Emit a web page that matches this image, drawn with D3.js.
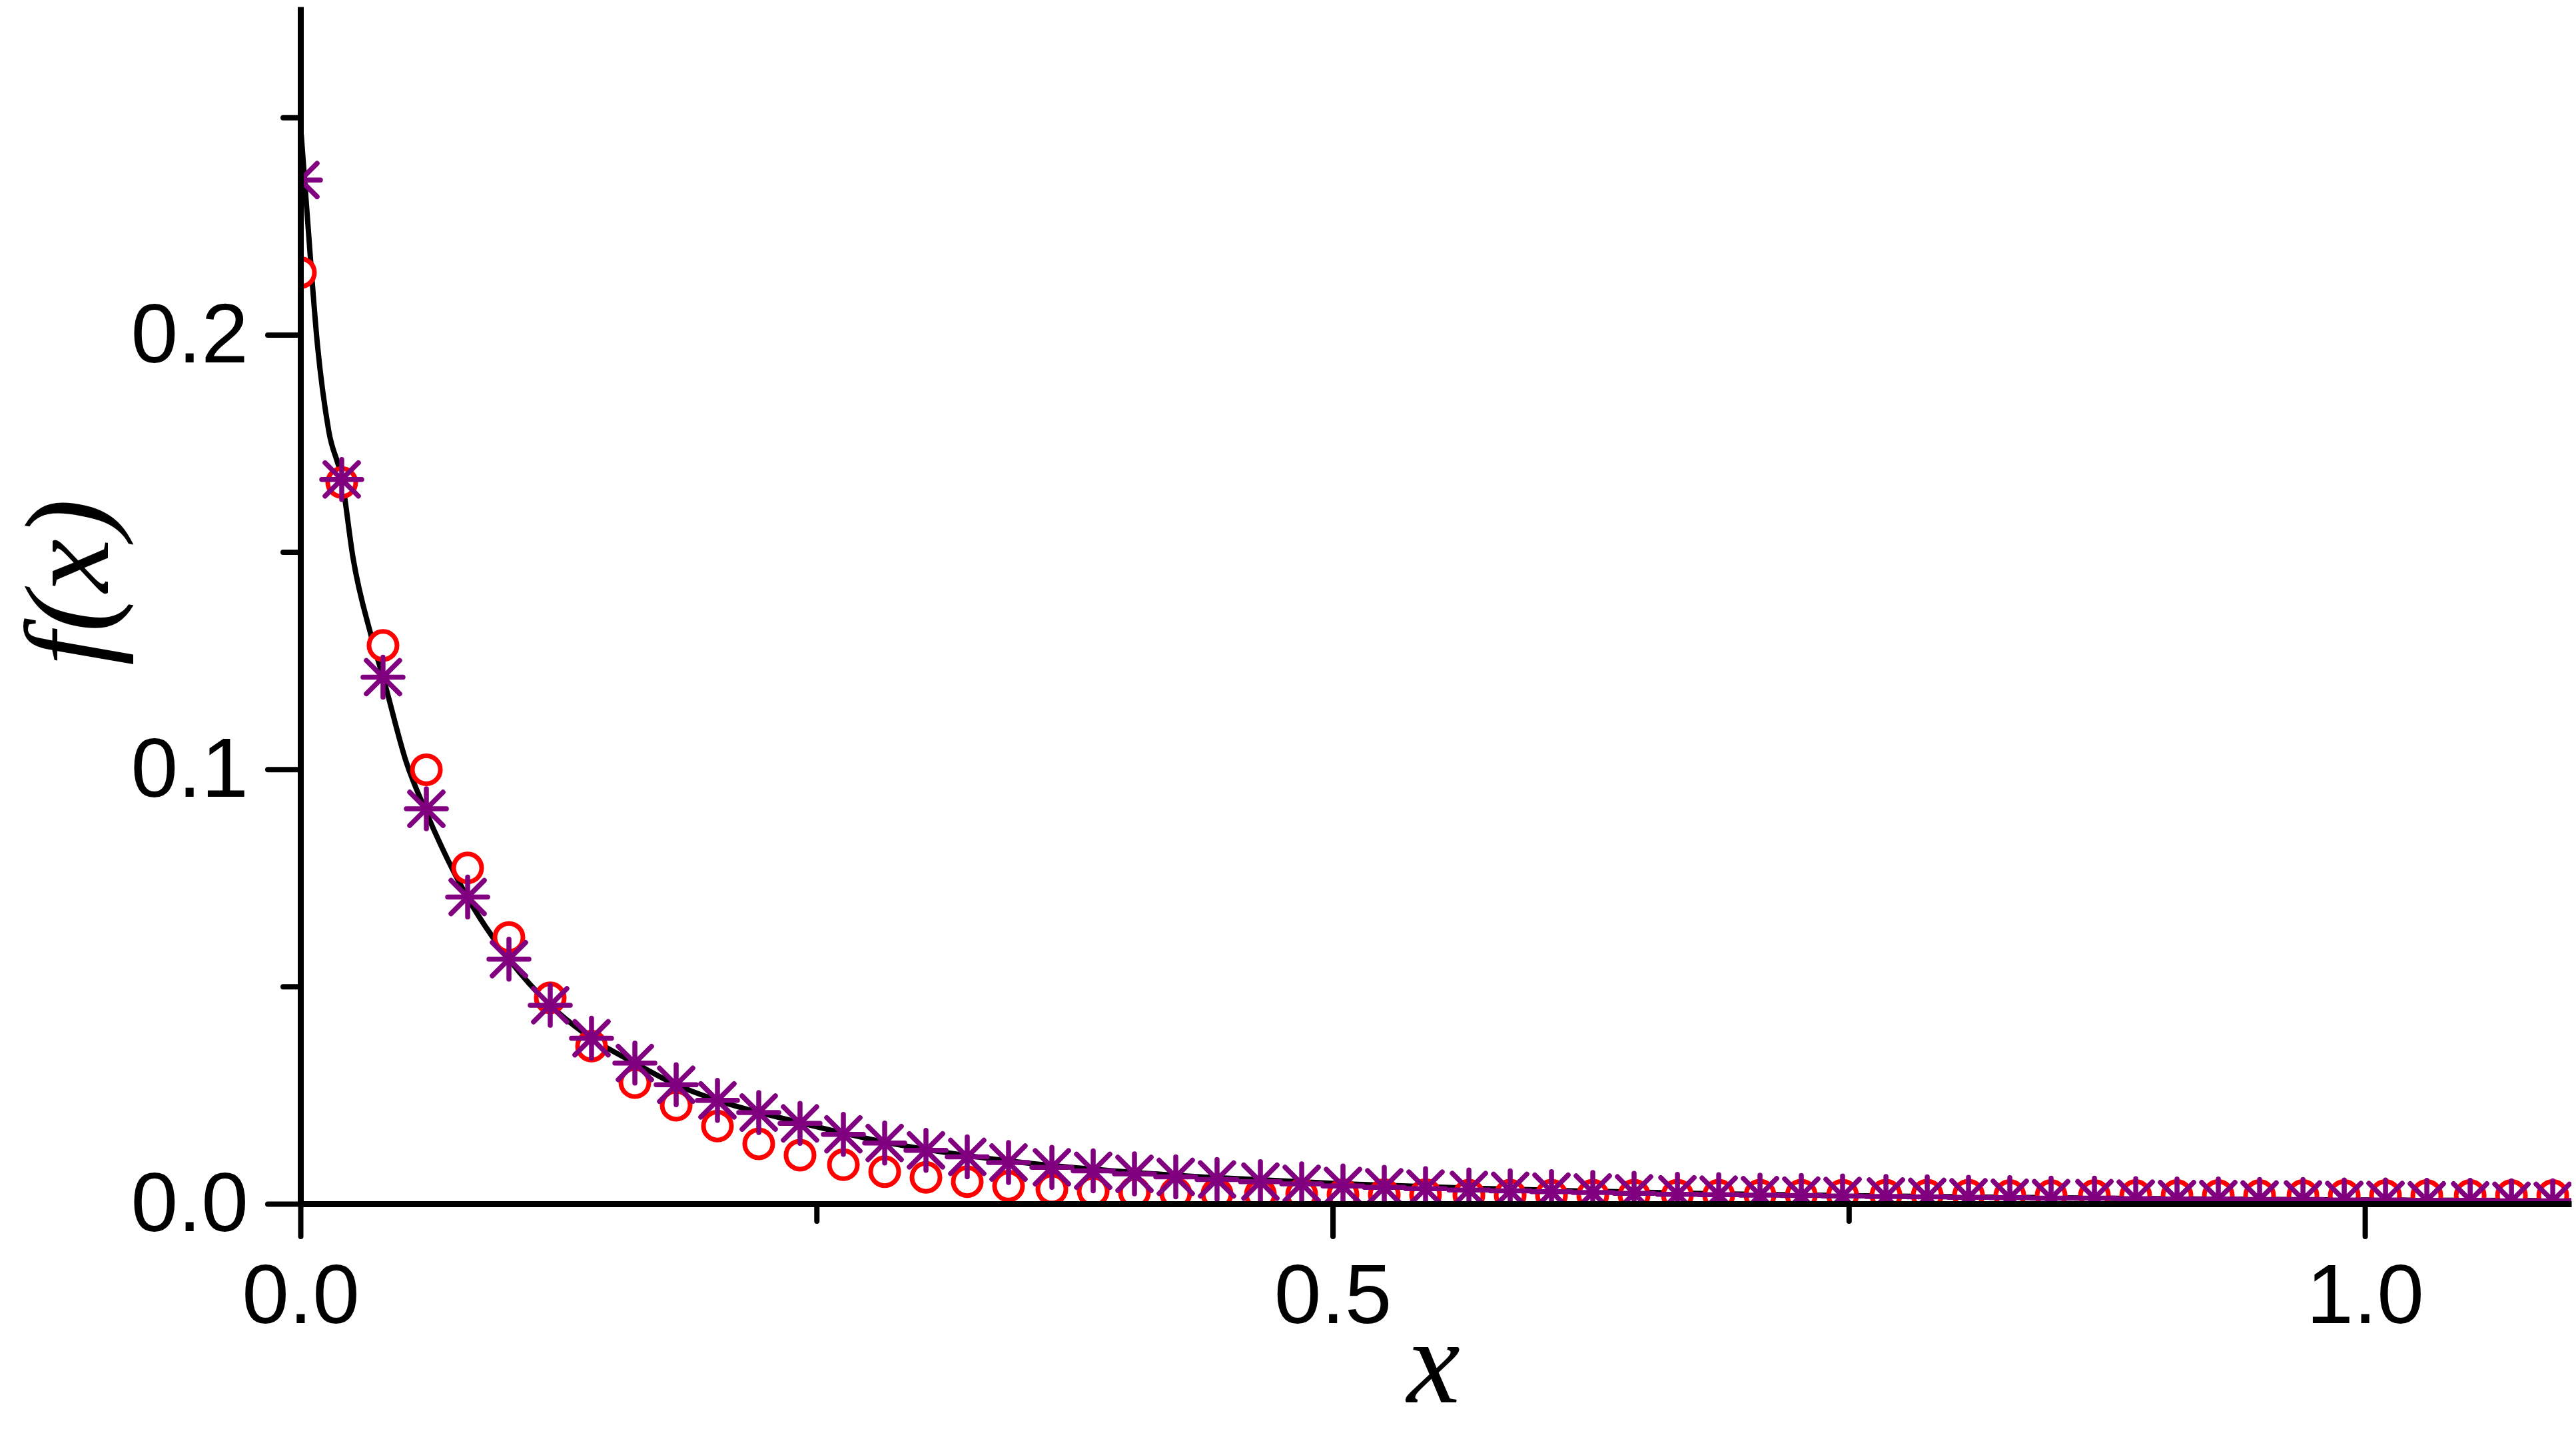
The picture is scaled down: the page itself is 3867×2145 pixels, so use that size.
<!DOCTYPE html>
<html>
<head>
<meta charset="utf-8">
<script src="https://cdn.jsdelivr.net/npm/d3@7"></script>
<style>
  body { margin: 0; background: #fff; }
  svg { display: block; }
</style>
</head>
<body>
<svg id="chart" width="3867" height="2145"></svg>
<script>
// sample positions (x) shared by both marker series
const xVals = [0, 0.020, 0.040, 0.061, 0.081, 0.101, 0.121, 0.141, 0.162, 0.182,
  0.202, 0.222, 0.242, 0.263, 0.283, 0.303, 0.323, 0.343, 0.364, 0.384,
  0.404, 0.424, 0.444, 0.465, 0.485, 0.505, 0.525, 0.545, 0.566, 0.586,
  0.606, 0.626, 0.646, 0.667, 0.687, 0.707, 0.727, 0.747, 0.768, 0.788,
  0.808, 0.828, 0.848, 0.869, 0.889, 0.909, 0.929, 0.949, 0.970, 0.990,
  1.010, 1.030, 1.051, 1.071, 1.091];

// red open circles
const redVals = [0.2143, 0.1660, 0.1285, 0.0999, 0.0773, 0.0613, 0.0474, 0.0363, 0.0279, 0.0227,
  0.0179, 0.0138, 0.0112, 0.0090, 0.0074, 0.0061, 0.0051, 0.0041, 0.0034, 0.0029,
  0.0026, 0.0024, 0.0023, 0.0022, 0.0022, 0.0021, 0.0021, 0.0021, 0.0020, 0.0020,
  0.0020, 0.0020, 0.0020, 0.0020, 0.0020, 0.0020, 0.0020, 0.0020, 0.0020, 0.0020,
  0.0020, 0.0019, 0.0019, 0.0019, 0.0019, 0.0019, 0.0019, 0.0019, 0.0019, 0.0019,
  0.0019, 0.0019, 0.0019, 0.0019, 0.0019];

// purple asterisks
const purpleVals = [0.2356, 0.1667, 0.1212, 0.0909, 0.0706, 0.0563, 0.0457, 0.0381, 0.0324, 0.0274,
  0.0238, 0.0210, 0.0185, 0.0160, 0.0140, 0.0123, 0.0108, 0.0095, 0.0084, 0.0076,
  0.0069, 0.0062, 0.0056, 0.0051, 0.0046, 0.0041, 0.0038, 0.0035, 0.0032, 0.0030,
  0.0028, 0.0026, 0.0024, 0.0022, 0.0021, 0.0020, 0.0019, 0.0018, 0.0017, 0.0016,
  0.0015, 0.0014, 0.0013, 0.0013, 0.0012, 0.0011, 0.0011, 0.0010, 0.0010, 0.0009,
  0.0009, 0.0008, 0.0008, 0.0007, 0.0007];

// black solid curve
const curveX = [0.0004, 0.0034, 0.0083, 0.0137, 0.0201, 0.0255, 0.0341, 0.0406, 0.0513, 0.0606,
  0.0808, 0.101, 0.121, 0.141, 0.162, 0.182, 0.202, 0.242, 0.283, 0.323,
  0.364, 0.404, 0.444, 0.505, 0.566, 0.626, 0.687, 0.747, 0.808, 0.869,
  0.929, 0.990, 1.051, 1.100];
const curveY = [0.246, 0.2268, 0.1974, 0.1779, 0.1667, 0.1486, 0.1310, 0.1202, 0.1016, 0.0905,
  0.0706, 0.0563, 0.0457, 0.0381, 0.0324, 0.0274, 0.0238, 0.0187, 0.0142, 0.0111,
  0.0088, 0.0072, 0.0060, 0.0046, 0.0036, 0.0029, 0.0023, 0.0019, 0.0016, 0.0013,
  0.0011, 0.0009, 0.0008, 0.0007];

const xMajorTicks = [0, 0.5, 1.0];
const xMinorTicks = [0.25, 0.75];
const yMajorTicks = [0, 0.1, 0.2];
const yMinorTicks = [0.05, 0.15, 0.25];

const svg = d3.select("#chart");

const x = d3.scaleLinear().domain([0, 1.1]).range([451, 3860]);
const y = d3.scaleLinear().domain([0, 0.2755]).range([1807, 10]);

// clip data to the plot frame
svg.append("defs").append("clipPath").attr("id", "plotClip")
  .append("rect")
  .attr("x", x(0)).attr("y", y(0.2755))
  .attr("width", x(1.1) - x(0)).attr("height", y(0) - y(0.2755));

const plot = svg.append("g").attr("clip-path", "url(#plotClip)");

// curve
const line = d3.line()
  .x((d, i) => x(curveX[i]))
  .y(d => y(d))
  .curve(d3.curveMonotoneX);

plot.append("path")
  .datum(curveY)
  .attr("d", line)
  .attr("fill", "none")
  .attr("stroke", "#000")
  .attr("stroke-width", 8);

// red circles
plot.selectAll("circle.red")
  .data(redVals)
  .enter()
  .append("circle")
  .attr("class", "red")
  .attr("cx", (d, i) => x(xVals[i]))
  .attr("cy", d => y(d))
  .attr("r", 21)
  .attr("fill", "#fff")
  .attr("stroke", "#ff0000")
  .attr("stroke-width", 7);

// purple asterisks
const star = "M-30,0H30M0,-30V30M-25,-25L25,25M-25,25L25,-25";
plot.selectAll("path.star")
  .data(purpleVals)
  .enter()
  .append("path")
  .attr("class", "star")
  .attr("d", star)
  .attr("transform", (d, i) => `translate(${x(xVals[i])},${y(d)})`)
  .attr("fill", "none")
  .attr("stroke", "#800080")
  .attr("stroke-width", 7.5)
  .attr("stroke-linecap", "round");

// axes
const fmt = d3.format(".1f");
const tickFont = "'Liberation Sans', Arial, sans-serif";

svg.append("g")
  .attr("transform", `translate(0,${y(0)})`)
  .call(d3.axisBottom(x).tickValues(xMajorTicks).tickFormat(fmt).tickSize(49).tickSizeOuter(0).tickPadding(40));
svg.append("g")
  .attr("transform", `translate(0,${y(0)})`)
  .call(d3.axisBottom(x).tickValues(xMinorTicks).tickFormat("").tickSize(26).tickSizeOuter(0))
  .select(".domain").remove();

svg.append("g")
  .attr("transform", `translate(${x(0)},0)`)
  .call(d3.axisLeft(y).tickValues(yMajorTicks).tickFormat(fmt).tickSize(49).tickSizeOuter(0).tickPadding(29));
svg.append("g")
  .attr("transform", `translate(${x(0)},0)`)
  .call(d3.axisLeft(y).tickValues(yMinorTicks).tickFormat("").tickSize(26).tickSizeOuter(0))
  .select(".domain").remove();

svg.selectAll(".domain").attr("stroke", "#000").attr("stroke-width", 9);
svg.selectAll(".tick line").attr("stroke", "#000").attr("stroke-width", 8).attr("stroke-linecap", "round");
svg.selectAll(".tick text")
  .attr("fill", "#000")
  .attr("font-family", tickFont)
  .attr("font-size", 127);

// axis titles
svg.append("text")
  .attr("x", 2152)
  .attr("y", 2105)
  .attr("text-anchor", "middle")
  .attr("font-family", "'Liberation Serif', 'Times New Roman', serif")
  .attr("font-style", "italic")
  .attr("font-size", 180)
  .text("x");

svg.append("text")
  .attr("transform", "translate(162,874) rotate(-90)")
  .attr("text-anchor", "middle")
  .attr("font-family", "'Liberation Serif', 'Times New Roman', serif")
  .attr("font-style", "italic")
  .attr("font-size", 180)
  .text("f(x)");
</script>
</body>
</html>
